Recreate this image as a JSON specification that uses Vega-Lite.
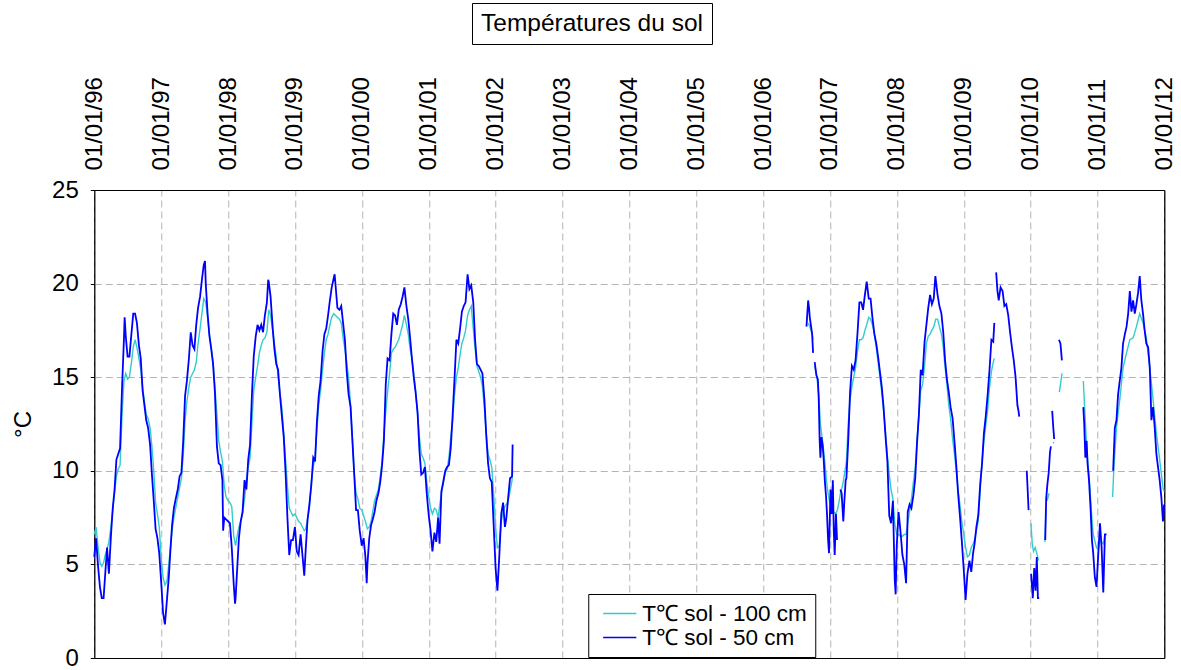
{
  "$schema": "https://vega.github.io/schema/vega-lite/v6.json",
  "background": "white",
  "padding": {"left": 11, "top": 2, "right": 0, "bottom": 0},
  "config": {
    "view": {"stroke": "black", "strokeWidth": 1},
    "font": "Liberation Sans",
    "axis": {"labelFont": "Liberation Sans", "titleFont": "Liberation Sans", "labelColor": "black", "titleColor": "black", "gridColor": "#b4b4b4", "gridDash": [7, 4], "gridWidth": 1, "domainColor": "black", "domainWidth": 1}
  },
  "spacing": 31,
  "center": true,
  "resolve": {"scale": {"color": "independent"}},
  "datasets": {
    "c50": [
      {"d":"1996-01-01","v":5.4},{"d":"1996-01-11","v":6.4},{"d":"1996-01-21","v":5.0},{"d":"1996-02-01","v":3.8},{"d":"1996-02-11","v":3.2},{"d":"1996-02-21","v":3.2},{"d":"1996-03-01","v":4.5},{"d":"1996-03-11","v":5.9},{"d":"1996-03-21","v":4.5},{"d":"1996-04-01","v":6.5},{"d":"1996-04-11","v":8.0},{"d":"1996-04-21","v":9.0},{"d":"1996-05-01","v":10.6},{"d":"1996-05-11","v":10.9},{"d":"1996-05-21","v":11.2},{"d":"1996-06-01","v":14.5},{"d":"1996-06-11","v":17.0},{"d":"1996-06-15","v":18.2},{"d":"1996-06-21","v":17.2},{"d":"1996-07-01","v":16.1},{"d":"1996-07-11","v":16.1},{"d":"1996-07-21","v":17.2},{"d":"1996-08-01","v":18.4},{"d":"1996-08-11","v":18.4},{"d":"1996-08-21","v":17.9},{"d":"1996-09-01","v":16.7},{"d":"1996-09-11","v":16.0},{"d":"1996-09-21","v":14.3},{"d":"1996-10-01","v":13.5},{"d":"1996-10-11","v":12.7},{"d":"1996-10-21","v":12.3},{"d":"1996-11-01","v":11.4},{"d":"1996-11-11","v":9.8},{"d":"1996-11-21","v":8.4},{"d":"1996-12-01","v":6.9},{"d":"1996-12-11","v":6.4},{"d":"1996-12-21","v":5.6},
      {"d":"1997-01-01","v":4.0},{"d":"1997-01-11","v":2.4},{"d":"1997-01-21","v":1.8},{"d":"1997-02-01","v":3.1},{"d":"1997-02-11","v":4.3},{"d":"1997-02-21","v":5.9},{"d":"1997-03-01","v":7.1},{"d":"1997-03-11","v":8.0},{"d":"1997-03-21","v":8.5},{"d":"1997-04-01","v":9.0},{"d":"1997-04-11","v":9.7},{"d":"1997-04-21","v":9.9},{"d":"1997-05-01","v":11.6},{"d":"1997-05-11","v":14.0},{"d":"1997-05-21","v":14.8},{"d":"1997-06-01","v":16.0},{"d":"1997-06-11","v":17.4},{"d":"1997-06-21","v":16.7},{"d":"1997-07-01","v":16.5},{"d":"1997-07-11","v":17.8},{"d":"1997-07-21","v":18.7},{"d":"1997-08-01","v":19.3},{"d":"1997-08-11","v":20.2},{"d":"1997-08-21","v":21.0},{"d":"1997-08-28","v":21.2},{"d":"1997-09-01","v":20.0},{"d":"1997-09-11","v":18.4},{"d":"1997-09-21","v":17.2},{"d":"1997-10-01","v":16.5},{"d":"1997-10-11","v":15.7},{"d":"1997-10-21","v":14.2},{"d":"1997-11-01","v":11.3},{"d":"1997-11-11","v":10.4},{"d":"1997-11-21","v":10.3},{"d":"1997-12-01","v":9.5},{"d":"1997-12-05","v":6.8},{"d":"1997-12-11","v":7.5},{"d":"1997-12-21","v":7.4},
      {"d":"1998-01-01","v":7.3},{"d":"1998-01-11","v":7.2},{"d":"1998-01-21","v":5.9},{"d":"1998-02-01","v":3.9},{"d":"1998-02-08","v":2.9},{"d":"1998-02-11","v":3.2},{"d":"1998-02-21","v":5.0},{"d":"1998-03-01","v":6.4},{"d":"1998-03-11","v":7.3},{"d":"1998-03-21","v":7.8},{"d":"1998-04-01","v":9.5},{"d":"1998-04-11","v":9.0},{"d":"1998-04-21","v":10.6},{"d":"1998-05-01","v":11.4},{"d":"1998-05-11","v":14.0},{"d":"1998-05-21","v":16.1},{"d":"1998-06-01","v":17.2},{"d":"1998-06-11","v":17.8},{"d":"1998-06-21","v":17.5},{"d":"1998-07-01","v":17.8},{"d":"1998-07-11","v":17.4},{"d":"1998-07-21","v":18.3},{"d":"1998-08-01","v":19.0},{"d":"1998-08-08","v":20.2},{"d":"1998-08-11","v":20.1},{"d":"1998-08-21","v":19.3},{"d":"1998-09-01","v":17.7},{"d":"1998-09-11","v":16.5},{"d":"1998-09-21","v":15.7},{"d":"1998-10-01","v":15.4},{"d":"1998-10-11","v":14.1},{"d":"1998-10-21","v":13.0},{"d":"1998-11-01","v":11.8},{"d":"1998-11-11","v":9.9},{"d":"1998-11-21","v":7.5},{"d":"1998-12-01","v":5.5},{"d":"1998-12-11","v":6.3},{"d":"1998-12-21","v":6.3},
      {"d":"1999-01-01","v":7.0},{"d":"1999-01-11","v":5.7},{"d":"1999-01-21","v":5.5},{"d":"1999-02-01","v":6.6},{"d":"1999-02-11","v":5.5},{"d":"1999-02-21","v":4.4},{"d":"1999-03-01","v":5.8},{"d":"1999-03-11","v":7.4},{"d":"1999-03-21","v":8.2},{"d":"1999-04-01","v":9.3},{"d":"1999-04-11","v":10.7},{"d":"1999-04-21","v":10.5},{"d":"1999-05-01","v":12.6},{"d":"1999-05-11","v":14.0},{"d":"1999-05-21","v":14.8},{"d":"1999-06-01","v":16.4},{"d":"1999-06-11","v":17.3},{"d":"1999-06-21","v":17.6},{"d":"1999-07-01","v":18.3},{"d":"1999-07-11","v":19.1},{"d":"1999-07-21","v":19.8},{"d":"1999-08-01","v":20.3},{"d":"1999-08-06","v":20.5},{"d":"1999-08-11","v":19.9},{"d":"1999-08-21","v":18.7},{"d":"1999-09-01","v":18.6},{"d":"1999-09-11","v":18.8},{"d":"1999-09-21","v":17.9},{"d":"1999-10-01","v":17.0},{"d":"1999-10-11","v":15.3},{"d":"1999-10-21","v":14.1},{"d":"1999-11-01","v":13.4},{"d":"1999-11-11","v":11.6},{"d":"1999-11-21","v":9.8},{"d":"1999-12-01","v":7.9},{"d":"1999-12-11","v":7.9},{"d":"1999-12-21","v":6.8},
      {"d":"2000-01-01","v":6.0},{"d":"2000-01-11","v":6.4},{"d":"2000-01-21","v":5.4},{"d":"2000-01-28","v":4.0},{"d":"2000-02-01","v":5.0},{"d":"2000-02-11","v":6.4},{"d":"2000-02-21","v":7.1},{"d":"2000-03-01","v":7.4},{"d":"2000-03-11","v":7.8},{"d":"2000-03-21","v":8.4},{"d":"2000-04-01","v":8.8},{"d":"2000-04-11","v":9.4},{"d":"2000-04-21","v":10.3},{"d":"2000-05-01","v":11.6},{"d":"2000-05-11","v":14.6},{"d":"2000-05-21","v":16.0},{"d":"2000-06-01","v":15.9},{"d":"2000-06-11","v":17.3},{"d":"2000-06-21","v":18.4},{"d":"2000-07-01","v":18.3},{"d":"2000-07-11","v":17.8},{"d":"2000-07-21","v":18.6},{"d":"2000-08-01","v":18.9},{"d":"2000-08-11","v":19.3},{"d":"2000-08-21","v":19.8},{"d":"2000-09-01","v":18.8},{"d":"2000-09-11","v":18.1},{"d":"2000-09-21","v":17.1},{"d":"2000-10-01","v":16.0},{"d":"2000-10-11","v":15.0},{"d":"2000-10-21","v":14.2},{"d":"2000-11-01","v":13.1},{"d":"2000-11-11","v":11.1},{"d":"2000-11-21","v":9.8},{"d":"2000-12-01","v":9.9},{"d":"2000-12-11","v":10.2},{"d":"2000-12-21","v":8.8},
      {"d":"2001-01-01","v":7.6},{"d":"2001-01-11","v":6.8},{"d":"2001-01-21","v":5.7},{"d":"2001-02-01","v":6.7},{"d":"2001-02-11","v":6.2},{"d":"2001-02-21","v":7.5},{"d":"2001-03-01","v":6.1},{"d":"2001-03-11","v":8.9},{"d":"2001-03-21","v":9.4},{"d":"2001-04-01","v":10.0},{"d":"2001-04-11","v":10.2},{"d":"2001-04-21","v":10.3},{"d":"2001-05-01","v":11.2},{"d":"2001-05-11","v":12.9},{"d":"2001-05-21","v":14.8},{"d":"2001-06-01","v":17.0},{"d":"2001-06-11","v":16.8},{"d":"2001-06-21","v":17.6},{"d":"2001-07-01","v":18.5},{"d":"2001-07-11","v":18.8},{"d":"2001-07-21","v":19.0},{"d":"2001-08-01","v":20.5},{"d":"2001-08-11","v":19.7},{"d":"2001-08-21","v":19.9},{"d":"2001-09-01","v":19.0},{"d":"2001-09-11","v":17.0},{"d":"2001-09-21","v":15.7},{"d":"2001-10-01","v":15.6},{"d":"2001-10-11","v":15.4},{"d":"2001-10-21","v":15.2},{"d":"2001-11-01","v":13.8},{"d":"2001-11-11","v":11.9},{"d":"2001-11-21","v":10.4},{"d":"2001-12-01","v":9.6},{"d":"2001-12-11","v":9.4},{"d":"2001-12-21","v":7.2},
      {"d":"2002-01-01","v":4.8},{"d":"2002-01-11","v":3.6},{"d":"2002-01-21","v":5.4},{"d":"2002-02-01","v":7.7},{"d":"2002-02-11","v":8.3},{"d":"2002-02-21","v":7.0},{"d":"2002-03-01","v":7.5},{"d":"2002-03-11","v":8.6},{"d":"2002-03-21","v":9.6},{"d":"2002-04-01","v":9.7},{"d":"2002-04-04","v":11.4},
      {"d":"2004-06-01","v":null},
      {"d":"2006-08-26","v":17.7},{"d":"2006-09-04","v":19.1},{"d":"2006-09-09","v":18.7},{"d":"2006-09-13","v":18.2},{"d":"2006-09-26","v":17.3},{"d":"2006-10-01","v":16.3},{"d":"2006-10-05","v":null},{"d":"2006-10-10","v":15.8},{"d":"2006-10-19","v":15.1},{"d":"2006-10-27","v":14.9},{"d":"2006-11-01","v":13.8},{"d":"2006-11-06","v":11.6},{"d":"2006-11-10","v":10.7},{"d":"2006-11-16","v":11.8},{"d":"2006-11-23","v":11.3},{"d":"2006-11-28","v":10.6},{"d":"2006-12-04","v":9.5},{"d":"2006-12-11","v":8.6},{"d":"2006-12-16","v":7.7},{"d":"2006-12-22","v":6.3},{"d":"2006-12-27","v":5.6},
      {"d":"2007-01-04","v":9.0},{"d":"2007-01-10","v":7.7},{"d":"2007-01-17","v":9.5},{"d":"2007-01-22","v":6.8},{"d":"2007-01-27","v":5.5},{"d":"2007-02-03","v":7.7},{"d":"2007-02-09","v":6.3},{"d":"2007-02-18","v":null},{"d":"2007-02-27","v":9.0},{"d":"2007-03-06","v":8.8},{"d":"2007-03-15","v":7.3},{"d":"2007-03-21","v":8.4},{"d":"2007-03-28","v":9.5},{"d":"2007-04-01","v":9.6},{"d":"2007-04-11","v":11.6},{"d":"2007-04-21","v":14.2},{"d":"2007-05-01","v":15.6},{"d":"2007-05-11","v":15.4},{"d":"2007-05-21","v":15.9},{"d":"2007-06-01","v":17.4},{"d":"2007-06-11","v":19.0},{"d":"2007-06-21","v":19.0},{"d":"2007-07-01","v":18.6},{"d":"2007-07-11","v":19.4},{"d":"2007-07-21","v":20.1},{"d":"2007-08-01","v":19.2},{"d":"2007-08-11","v":19.2},{"d":"2007-08-21","v":18.2},{"d":"2007-09-01","v":17.3},{"d":"2007-09-11","v":16.8},{"d":"2007-09-21","v":16.1},{"d":"2007-10-01","v":15.3},{"d":"2007-10-11","v":14.5},{"d":"2007-10-21","v":13.4},{"d":"2007-11-01","v":11.8},{"d":"2007-11-11","v":10.5},{"d":"2007-11-21","v":7.6},{"d":"2007-12-01","v":7.2},{"d":"2007-12-11","v":8.4},{"d":"2007-12-21","v":4.2},{"d":"2007-12-26","v":3.4},
      {"d":"2008-01-01","v":6.0},{"d":"2008-01-11","v":7.8},{"d":"2008-01-21","v":6.8},{"d":"2008-02-01","v":5.5},{"d":"2008-02-11","v":5.0},{"d":"2008-02-21","v":4.0},{"d":"2008-03-01","v":7.8},{"d":"2008-03-11","v":8.2},{"d":"2008-03-21","v":8.0},{"d":"2008-04-01","v":8.7},{"d":"2008-04-11","v":9.6},{"d":"2008-04-21","v":11.5},{"d":"2008-05-01","v":13.0},{"d":"2008-05-11","v":15.4},{"d":"2008-05-21","v":15.1},{"d":"2008-06-01","v":16.9},{"d":"2008-06-11","v":17.8},{"d":"2008-06-21","v":18.7},{"d":"2008-07-01","v":19.4},{"d":"2008-07-11","v":18.9},{"d":"2008-07-21","v":19.2},{"d":"2008-07-30","v":20.4},{"d":"2008-08-11","v":19.4},{"d":"2008-08-21","v":18.8},{"d":"2008-09-01","v":18.4},{"d":"2008-09-11","v":17.4},{"d":"2008-09-21","v":15.9},{"d":"2008-10-01","v":14.9},{"d":"2008-10-11","v":14.2},{"d":"2008-10-21","v":13.4},{"d":"2008-11-01","v":12.8},{"d":"2008-11-11","v":11.6},{"d":"2008-11-21","v":10.3},{"d":"2008-12-01","v":8.8},{"d":"2008-12-11","v":7.6},{"d":"2008-12-21","v":6.3},
      {"d":"2009-01-01","v":4.7},{"d":"2009-01-11","v":3.1},{"d":"2009-01-21","v":4.5},{"d":"2009-02-01","v":5.2},{"d":"2009-02-11","v":4.6},{"d":"2009-02-21","v":5.6},{"d":"2009-03-01","v":6.1},{"d":"2009-03-11","v":7.0},{"d":"2009-03-21","v":7.6},{"d":"2009-04-01","v":9.3},{"d":"2009-04-11","v":10.4},{"d":"2009-04-21","v":12.0},{"d":"2009-05-01","v":12.9},{"d":"2009-05-11","v":14.0},{"d":"2009-05-21","v":15.3},{"d":"2009-06-01","v":17.0},{"d":"2009-06-11","v":16.9},{"d":"2009-06-17","v":17.9},{"d":"2009-06-22","v":null},{"d":"2009-06-27","v":20.6},{"d":"2009-07-04","v":19.6},{"d":"2009-07-11","v":19.1},{"d":"2009-07-21","v":19.8},{"d":"2009-08-01","v":19.6},{"d":"2009-08-11","v":18.8},{"d":"2009-08-21","v":18.9},{"d":"2009-09-01","v":18.3},{"d":"2009-09-11","v":17.4},{"d":"2009-09-21","v":16.6},{"d":"2009-10-01","v":15.9},{"d":"2009-10-11","v":15.0},{"d":"2009-10-21","v":13.5},{"d":"2009-10-27","v":13.2},{"d":"2009-10-31","v":12.9},{"d":"2009-11-15","v":null},{"d":"2009-12-11","v":10.0},{"d":"2009-12-15","v":9.2},{"d":"2009-12-21","v":7.9},{"d":"2009-12-28","v":null},
      {"d":"2010-01-04","v":4.5},{"d":"2010-01-13","v":3.2},{"d":"2010-01-21","v":4.8},{"d":"2010-01-28","v":3.6},{"d":"2010-02-04","v":5.4},{"d":"2010-02-10","v":3.2},{"d":"2010-02-17","v":3.2},{"d":"2010-02-25","v":null},{"d":"2010-03-22","v":6.3},{"d":"2010-03-27","v":8.5},{"d":"2010-04-03","v":9.3},{"d":"2010-04-10","v":9.9},{"d":"2010-04-17","v":11.0},{"d":"2010-04-22","v":11.3},{"d":"2010-04-25","v":null},{"d":"2010-04-29","v":13.2},{"d":"2010-05-05","v":12.3},{"d":"2010-05-10","v":11.7},{"d":"2010-05-18","v":null},{"d":"2010-06-05","v":17.0},{"d":"2010-06-13","v":16.8},{"d":"2010-06-21","v":15.9},{"d":"2010-07-01","v":null},{"d":"2010-10-16","v":13.4},{"d":"2010-10-21","v":12.5},{"d":"2010-10-27","v":10.7},{"d":"2010-11-03","v":11.6},{"d":"2010-11-08","v":10.4},{"d":"2010-11-16","v":9.5},{"d":"2010-11-25","v":7.9},{"d":"2010-12-02","v":6.3},{"d":"2010-12-09","v":5.6},{"d":"2010-12-18","v":4.3},{"d":"2010-12-27","v":3.8},
      {"d":"2011-01-06","v":5.6},{"d":"2011-01-15","v":7.2},{"d":"2011-01-24","v":5.9},{"d":"2011-02-02","v":3.5},{"d":"2011-02-11","v":6.6},{"d":"2011-02-20","v":6.6},{"d":"2011-03-05","v":null},{"d":"2011-03-28","v":10.0},{"d":"2011-04-06","v":12.3},{"d":"2011-04-15","v":12.7},{"d":"2011-04-24","v":14.1},{"d":"2011-05-03","v":14.8},{"d":"2011-05-12","v":15.5},{"d":"2011-05-21","v":16.8},{"d":"2011-05-31","v":17.3},{"d":"2011-06-09","v":17.7},{"d":"2011-06-18","v":18.4},{"d":"2011-06-27","v":19.6},{"d":"2011-07-06","v":18.5},{"d":"2011-07-15","v":19.1},{"d":"2011-07-24","v":18.4},{"d":"2011-08-02","v":18.9},{"d":"2011-08-11","v":19.5},{"d":"2011-08-20","v":20.4},{"d":"2011-08-29","v":19.1},{"d":"2011-09-07","v":18.4},{"d":"2011-09-16","v":17.5},{"d":"2011-09-25","v":16.8},{"d":"2011-10-05","v":16.6},{"d":"2011-10-14","v":15.5},{"d":"2011-10-23","v":12.7},{"d":"2011-11-01","v":13.4},{"d":"2011-11-10","v":12.3},{"d":"2011-11-19","v":10.9},{"d":"2011-11-28","v":10.2},{"d":"2011-12-07","v":9.5},{"d":"2011-12-16","v":8.6},{"d":"2011-12-25","v":7.3},{"d":"2011-12-31","v":8.2}
    ],
    "c100": [
      {"d":"1996-01-01","v":6.6},{"d":"1996-01-11","v":7.0},{"d":"1996-01-21","v":6.0},{"d":"1996-02-01","v":5.1},{"d":"1996-02-11","v":4.9},{"d":"1996-02-21","v":5.1},{"d":"1996-03-01","v":5.5},{"d":"1996-03-11","v":5.8},{"d":"1996-03-21","v":6.2},{"d":"1996-04-01","v":7.0},{"d":"1996-04-11","v":7.9},{"d":"1996-04-21","v":8.8},{"d":"1996-05-01","v":9.7},{"d":"1996-05-11","v":10.1},{"d":"1996-05-21","v":10.3},{"d":"1996-06-01","v":13.0},{"d":"1996-06-11","v":14.8},{"d":"1996-06-21","v":15.2},{"d":"1996-07-01","v":14.9},{"d":"1996-07-11","v":15.0},{"d":"1996-07-21","v":15.7},{"d":"1996-08-01","v":16.6},{"d":"1996-08-11","v":17.0},{"d":"1996-08-21","v":16.6},{"d":"1996-09-01","v":16.0},{"d":"1996-09-11","v":15.4},{"d":"1996-09-21","v":14.5},{"d":"1996-10-01","v":13.7},{"d":"1996-10-11","v":13.0},{"d":"1996-10-21","v":12.8},{"d":"1996-11-01","v":12.3},{"d":"1996-11-11","v":11.3},{"d":"1996-11-21","v":10.0},{"d":"1996-12-01","v":8.3},{"d":"1996-12-11","v":7.7},{"d":"1996-12-21","v":7.0},
      {"d":"1997-01-01","v":5.3},{"d":"1997-01-11","v":4.3},{"d":"1997-01-21","v":3.9},{"d":"1997-02-01","v":4.1},{"d":"1997-02-11","v":5.0},{"d":"1997-02-21","v":6.0},{"d":"1997-03-01","v":6.8},{"d":"1997-03-11","v":7.5},{"d":"1997-03-21","v":8.0},{"d":"1997-04-01","v":8.6},{"d":"1997-04-11","v":9.1},{"d":"1997-04-21","v":9.6},{"d":"1997-05-01","v":10.8},{"d":"1997-05-11","v":12.7},{"d":"1997-05-21","v":13.7},{"d":"1997-06-01","v":14.5},{"d":"1997-06-11","v":15.0},{"d":"1997-06-21","v":15.2},{"d":"1997-07-01","v":15.4},{"d":"1997-07-11","v":15.8},{"d":"1997-07-21","v":16.8},{"d":"1997-08-01","v":17.6},{"d":"1997-08-11","v":18.4},{"d":"1997-08-21","v":19.2},{"d":"1997-09-01","v":19.0},{"d":"1997-09-11","v":18.2},{"d":"1997-09-21","v":17.3},{"d":"1997-10-01","v":16.6},{"d":"1997-10-11","v":15.8},{"d":"1997-10-21","v":14.5},{"d":"1997-11-01","v":13.0},{"d":"1997-11-11","v":11.6},{"d":"1997-11-21","v":11.0},{"d":"1997-12-01","v":10.5},{"d":"1997-12-11","v":9.2},{"d":"1997-12-21","v":8.6},
      {"d":"1998-01-01","v":8.4},{"d":"1998-01-11","v":8.3},{"d":"1998-01-21","v":8.1},{"d":"1998-02-01","v":6.5},{"d":"1998-02-11","v":6.0},{"d":"1998-02-21","v":6.6},{"d":"1998-03-01","v":7.0},{"d":"1998-03-11","v":7.3},{"d":"1998-03-21","v":7.7},{"d":"1998-04-01","v":8.5},{"d":"1998-04-11","v":9.5},{"d":"1998-04-21","v":10.2},{"d":"1998-05-01","v":10.7},{"d":"1998-05-11","v":12.5},{"d":"1998-05-21","v":14.3},{"d":"1998-06-01","v":15.0},{"d":"1998-06-11","v":15.6},{"d":"1998-06-21","v":16.3},{"d":"1998-07-01","v":16.7},{"d":"1998-07-11","v":17.0},{"d":"1998-07-21","v":17.1},{"d":"1998-08-01","v":17.4},{"d":"1998-08-11","v":18.6},{"d":"1998-08-21","v":18.3},{"d":"1998-09-01","v":17.5},{"d":"1998-09-11","v":16.8},{"d":"1998-09-21","v":16.1},{"d":"1998-10-01","v":15.0},{"d":"1998-10-11","v":14.2},{"d":"1998-10-21","v":13.4},{"d":"1998-11-01","v":12.0},{"d":"1998-11-11","v":10.6},{"d":"1998-11-21","v":9.2},{"d":"1998-12-01","v":8.0},{"d":"1998-12-11","v":7.8},{"d":"1998-12-21","v":7.6},
      {"d":"1999-01-01","v":7.7},{"d":"1999-01-11","v":7.5},{"d":"1999-01-21","v":7.3},{"d":"1999-02-01","v":7.2},{"d":"1999-02-11","v":7.0},{"d":"1999-02-21","v":6.8},{"d":"1999-03-01","v":6.9},{"d":"1999-03-11","v":7.4},{"d":"1999-03-21","v":8.0},{"d":"1999-04-01","v":9.4},{"d":"1999-04-11","v":10.2},{"d":"1999-04-21","v":10.7},{"d":"1999-05-01","v":12.2},{"d":"1999-05-11","v":13.5},{"d":"1999-05-21","v":14.3},{"d":"1999-06-01","v":15.4},{"d":"1999-06-11","v":16.3},{"d":"1999-06-21","v":17.0},{"d":"1999-07-01","v":17.3},{"d":"1999-07-11","v":17.8},{"d":"1999-07-21","v":18.2},{"d":"1999-08-01","v":18.4},{"d":"1999-08-11","v":18.3},{"d":"1999-08-21","v":18.2},{"d":"1999-09-01","v":18.1},{"d":"1999-09-11","v":17.9},{"d":"1999-09-21","v":17.1},{"d":"1999-10-01","v":16.5},{"d":"1999-10-11","v":15.8},{"d":"1999-10-21","v":15.0},{"d":"1999-11-01","v":13.5},{"d":"1999-11-11","v":11.7},{"d":"1999-11-21","v":9.8},{"d":"1999-12-01","v":8.8},{"d":"1999-12-11","v":8.5},{"d":"1999-12-21","v":8.0},
      {"d":"2000-01-01","v":7.9},{"d":"2000-01-11","v":7.6},{"d":"2000-01-21","v":7.3},{"d":"2000-02-01","v":6.9},{"d":"2000-02-11","v":7.0},{"d":"2000-02-21","v":7.3},{"d":"2000-03-01","v":7.8},{"d":"2000-03-11","v":8.4},{"d":"2000-03-21","v":8.7},{"d":"2000-04-01","v":9.0},{"d":"2000-04-11","v":9.7},{"d":"2000-04-21","v":10.5},{"d":"2000-05-01","v":12.0},{"d":"2000-05-11","v":13.1},{"d":"2000-05-21","v":14.2},{"d":"2000-06-01","v":15.2},{"d":"2000-06-11","v":16.3},{"d":"2000-06-21","v":16.5},{"d":"2000-07-01","v":16.6},{"d":"2000-07-11","v":16.8},{"d":"2000-07-21","v":17.0},{"d":"2000-08-01","v":17.4},{"d":"2000-08-11","v":17.8},{"d":"2000-08-21","v":18.3},{"d":"2000-09-01","v":17.8},{"d":"2000-09-11","v":17.3},{"d":"2000-09-21","v":16.5},{"d":"2000-10-01","v":16.0},{"d":"2000-10-11","v":15.2},{"d":"2000-10-21","v":14.3},{"d":"2000-11-01","v":13.0},{"d":"2000-11-11","v":11.8},{"d":"2000-11-21","v":10.9},{"d":"2000-12-01","v":10.7},{"d":"2000-12-11","v":10.4},{"d":"2000-12-21","v":9.4},
      {"d":"2001-01-01","v":8.6},{"d":"2001-01-11","v":8.0},{"d":"2001-01-21","v":7.7},{"d":"2001-02-01","v":8.0},{"d":"2001-02-11","v":7.9},{"d":"2001-02-21","v":7.5},{"d":"2001-03-01","v":8.1},{"d":"2001-03-11","v":8.8},{"d":"2001-03-21","v":9.3},{"d":"2001-04-01","v":9.9},{"d":"2001-04-11","v":10.1},{"d":"2001-04-21","v":10.7},{"d":"2001-05-01","v":11.8},{"d":"2001-05-11","v":12.6},{"d":"2001-05-21","v":14.0},{"d":"2001-06-01","v":15.0},{"d":"2001-06-11","v":15.5},{"d":"2001-06-21","v":16.2},{"d":"2001-07-01","v":16.8},{"d":"2001-07-11","v":17.1},{"d":"2001-07-21","v":17.5},{"d":"2001-08-01","v":18.3},{"d":"2001-08-11","v":18.6},{"d":"2001-08-21","v":18.8},{"d":"2001-09-01","v":17.6},{"d":"2001-09-11","v":16.5},{"d":"2001-09-21","v":15.6},{"d":"2001-10-01","v":15.3},{"d":"2001-10-11","v":15.0},{"d":"2001-10-21","v":14.5},{"d":"2001-11-01","v":13.3},{"d":"2001-11-11","v":12.0},{"d":"2001-11-21","v":10.9},{"d":"2001-12-01","v":10.6},{"d":"2001-12-11","v":10.2},{"d":"2001-12-21","v":8.8},
      {"d":"2002-01-01","v":7.0},{"d":"2002-01-11","v":5.9},{"d":"2002-01-21","v":6.0},{"d":"2002-02-01","v":7.3},{"d":"2002-02-11","v":7.8},{"d":"2002-02-21","v":8.1},{"d":"2002-03-01","v":8.2},{"d":"2002-03-11","v":8.4},{"d":"2002-03-21","v":8.9},{"d":"2002-04-01","v":9.5},{"d":"2002-04-04","v":10.0},
      {"d":"2004-06-01","v":null},
      {"d":"2006-09-04","v":17.9},{"d":"2006-09-13","v":17.7},{"d":"2006-09-26","v":17.3},{"d":"2006-10-01","v":17.0},{"d":"2006-10-05","v":null},{"d":"2006-10-10","v":15.6},{"d":"2006-10-19","v":15.2},{"d":"2006-11-01","v":14.1},{"d":"2006-11-10","v":12.5},{"d":"2006-11-23","v":11.5},{"d":"2006-12-04","v":10.5},{"d":"2006-12-16","v":9.2},{"d":"2006-12-27","v":8.5},
      {"d":"2007-01-01","v":8.3},{"d":"2007-01-11","v":8.1},{"d":"2007-01-21","v":7.8},{"d":"2007-02-01","v":7.7},{"d":"2007-02-11","v":7.9},{"d":"2007-02-21","v":8.4},{"d":"2007-03-01","v":8.9},{"d":"2007-03-11","v":9.2},{"d":"2007-03-21","v":9.8},{"d":"2007-04-01","v":10.5},{"d":"2007-04-11","v":12.5},{"d":"2007-04-21","v":13.8},{"d":"2007-05-01","v":14.5},{"d":"2007-05-11","v":15.0},{"d":"2007-05-21","v":15.5},{"d":"2007-06-01","v":16.4},{"d":"2007-06-11","v":17.0},{"d":"2007-06-21","v":17.0},{"d":"2007-07-01","v":17.1},{"d":"2007-07-11","v":17.5},{"d":"2007-07-21","v":17.8},{"d":"2007-08-01","v":18.2},{"d":"2007-08-11","v":18.1},{"d":"2007-08-21","v":17.8},{"d":"2007-09-01","v":17.3},{"d":"2007-09-11","v":16.6},{"d":"2007-09-21","v":15.8},{"d":"2007-10-01","v":15.0},{"d":"2007-10-11","v":14.2},{"d":"2007-10-21","v":13.2},{"d":"2007-11-01","v":12.0},{"d":"2007-11-11","v":10.8},{"d":"2007-11-21","v":9.8},{"d":"2007-12-01","v":9.0},{"d":"2007-12-11","v":8.5},{"d":"2007-12-21","v":7.2},
      {"d":"2008-01-01","v":6.6},{"d":"2008-01-11","v":6.6},{"d":"2008-01-21","v":6.5},{"d":"2008-02-01","v":6.5},{"d":"2008-02-11","v":6.6},{"d":"2008-02-21","v":6.6},{"d":"2008-03-01","v":7.2},{"d":"2008-03-11","v":7.8},{"d":"2008-03-21","v":8.5},{"d":"2008-04-01","v":9.4},{"d":"2008-04-11","v":10.2},{"d":"2008-04-21","v":11.7},{"d":"2008-05-01","v":13.0},{"d":"2008-05-11","v":14.3},{"d":"2008-05-21","v":14.6},{"d":"2008-06-01","v":15.6},{"d":"2008-06-11","v":16.8},{"d":"2008-06-21","v":17.2},{"d":"2008-07-01","v":17.3},{"d":"2008-07-11","v":17.5},{"d":"2008-07-21","v":17.7},{"d":"2008-08-01","v":18.1},{"d":"2008-08-11","v":18.1},{"d":"2008-08-21","v":17.7},{"d":"2008-09-01","v":17.3},{"d":"2008-09-11","v":16.6},{"d":"2008-09-21","v":15.5},{"d":"2008-10-01","v":14.6},{"d":"2008-10-11","v":13.5},{"d":"2008-10-21","v":12.8},{"d":"2008-11-01","v":11.7},{"d":"2008-11-11","v":10.9},{"d":"2008-11-21","v":10.0},{"d":"2008-12-01","v":9.0},{"d":"2008-12-11","v":8.2},{"d":"2008-12-21","v":7.3},
      {"d":"2009-01-01","v":6.6},{"d":"2009-01-11","v":5.9},{"d":"2009-01-21","v":5.4},{"d":"2009-02-01","v":5.5},{"d":"2009-02-11","v":5.9},{"d":"2009-02-21","v":6.1},{"d":"2009-03-01","v":6.3},{"d":"2009-03-11","v":6.8},{"d":"2009-03-21","v":7.3},{"d":"2009-04-01","v":9.0},{"d":"2009-04-11","v":10.5},{"d":"2009-04-21","v":11.6},{"d":"2009-05-01","v":12.4},{"d":"2009-05-11","v":13.2},{"d":"2009-05-21","v":14.4},{"d":"2009-06-01","v":15.3},{"d":"2009-06-11","v":15.8},{"d":"2009-06-17","v":16.0},{"d":"2009-09-01","v":null},
      {"d":"2010-01-03","v":7.2},{"d":"2010-01-10","v":6.1},{"d":"2010-01-17","v":5.7},{"d":"2010-01-26","v":5.9},{"d":"2010-02-04","v":5.6},{"d":"2010-02-13","v":5.2},{"d":"2010-02-20","v":null},{"d":"2010-03-20","v":6.2},{"d":"2010-03-26","v":7.9},{"d":"2010-03-29","v":null},{"d":"2010-04-01","v":8.4},{"d":"2010-04-12","v":8.8},{"d":"2010-04-20","v":null},{"d":"2010-05-03","v":11.5},{"d":"2010-05-10","v":11.5},{"d":"2010-05-16","v":null},{"d":"2010-06-07","v":14.2},{"d":"2010-06-22","v":15.2},{"d":"2010-07-01","v":null},{"d":"2010-10-16","v":14.8},{"d":"2010-10-25","v":13.0},{"d":"2010-11-03","v":11.3},{"d":"2010-11-12","v":10.2},{"d":"2010-11-21","v":9.1},{"d":"2010-11-30","v":7.7},{"d":"2010-12-09","v":6.6},{"d":"2010-12-27","v":5.9},
      {"d":"2011-01-06","v":5.8},{"d":"2011-01-15","v":6.3},{"d":"2011-02-02","v":6.1},{"d":"2011-02-11","v":6.6},{"d":"2011-02-20","v":null},{"d":"2011-03-25","v":8.6},{"d":"2011-04-01","v":10.2},{"d":"2011-04-15","v":12.3},{"d":"2011-05-03","v":13.8},{"d":"2011-05-21","v":15.5},{"d":"2011-06-09","v":16.3},{"d":"2011-06-27","v":17.0},{"d":"2011-07-15","v":17.1},{"d":"2011-08-02","v":17.7},{"d":"2011-08-20","v":18.4},{"d":"2011-09-07","v":17.9},{"d":"2011-09-25","v":17.1},{"d":"2011-10-14","v":15.5},{"d":"2011-11-01","v":13.8},{"d":"2011-11-19","v":12.0},{"d":"2011-12-07","v":10.6},{"d":"2011-12-25","v":9.1},{"d":"2011-12-31","v":8.9}
    ]
  },
  "vconcat": [
    {
      "spacing": 0,
      "hconcat": [
        {
          "width": 240,
          "height": 41,
          "view": {"stroke": "black", "strokeWidth": 1, "fill": "white"},
          "data": {"values": [{"t": "Températures du sol"}]},
          "mark": {"type": "text", "font": "Liberation Sans", "fontSize": 24.5, "color": "black"},
          "encoding": {
            "text": {"field": "t", "type": "nominal"},
            "x": {"datum": 0, "type": "quantitative", "scale": {"domain": [-1, 1]}, "axis": null},
            "y": {"datum": 0, "type": "quantitative", "scale": {"domain": [-1, 1]}, "axis": null}
          }
        },
        {
          "width": 86,
          "height": 41,
          "view": {"stroke": null, "fill": null},
          "data": {"values": [{"t": ""}]},
          "mark": {"type": "text"},
          "encoding": {"text": {"field": "t", "type": "nominal"}}
        }
      ]
    },
    {
      "width": 1070,
      "height": 468,
      "view": {"stroke": "black", "strokeWidth": 1},
      "encoding": {
        "x": {
          "field": "d", "type": "temporal",
          "scale": {"type": "utc", "domain": [{"year": 1996, "month": 1, "date": 1, "utc": true}, {"year": 2012, "month": 1, "date": 1, "utc": true}]},
          "axis": {"orient": "top", "title": null, "labelExpr": "utcFormat(datum.value, '%d/%m/%y')", "tickCount": {"interval": "year", "step": 1}, "labelAngle": -90, "labelAlign": "left", "labelBaseline": "middle", "labelFontSize": 24, "labelPadding": 20, "ticks": false, "tickSize": 0, "labelOverlap": false, "labelFlush": false, "labelBound": false, "grid": true, "domain": true}
        },
        "y": {
          "field": "v", "type": "quantitative",
          "scale": {"domain": [0, 25], "nice": false},
          "axis": {"title": "°C", "titleFontSize": 24, "titleFontWeight": "normal", "titlePadding": 16, "values": [0, 5, 10, 15, 20, 25], "labelFontSize": 24, "labelPadding": 12, "ticks": true, "tickSize": 4, "tickColor": "black", "grid": true, "domain": true}
        }
      },
      "resolve": {"axis": {"x": "independent", "y": "independent"}},
      "layer": [
        {
          "data": {"name": "c100"},
          "mark": {"type": "line", "strokeWidth": 1.4, "invalid": "break-paths-show-domains"},
          "encoding": {
            "color": {
              "datum": "T℃ sol - 100 cm", "type": "nominal",
              "scale": {"domain": ["T℃ sol - 100 cm", "T℃ sol - 50 cm"], "range": ["#33CCCC", "#0000FF"]},
              "legend": {"title": null, "orient": "none", "legendX": 494, "legendY": 404, "strokeColor": "black", "fillColor": "white", "padding": 8, "labelFont": "Liberation Sans", "labelFontSize": 22.5, "labelColor": "black", "labelLimit": 400, "symbolType": "stroke", "symbolSize": 1100, "symbolStrokeWidth": 1.5, "symbolOffset": 6, "labelOffset": 5, "clipHeight": 23, "rowPadding": 1}
            }
          }
        },
        {
          "data": {"name": "c50"},
          "mark": {"type": "line", "strokeWidth": 1.8, "invalid": "break-paths-show-domains"},
          "encoding": {
            "x": {"field": "d", "type": "temporal", "axis": {"orient": "bottom", "title": null, "labels": false, "ticks": false, "grid": false, "domain": true}},
            "y": {"field": "v", "type": "quantitative", "axis": {"orient": "right", "title": null, "labels": false, "ticks": false, "grid": false, "domain": true}},
            "color": {"datum": "T℃ sol - 50 cm", "type": "nominal"}
          }
        }
      ]
    }
  ]
}
